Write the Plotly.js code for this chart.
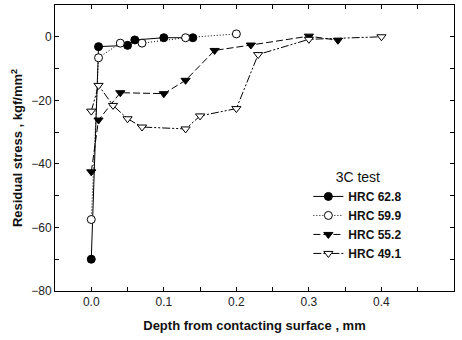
<!DOCTYPE html>
<html>
<head>
<meta charset="utf-8">
<script src="https://cdn.plot.ly/plotly-3.0.1.min.js"></script>
<style>html,body{margin:0;padding:0;background:#fff;}#chart{width:462px;height:340px;}</style>
</head>
<body>
<div id="chart"></div>
<script>
const depth628 = [0, 0.01, 0.05, 0.06, 0.10, 0.14];
const stress628 = [-70, -3.1, -2.7, -1.0, -0.3, -0.3];
const depth599 = [0, 0.01, 0.04, 0.07, 0.13, 0.20];
const stress599 = [-57.5, -6.6, -2.0, -2.0, -0.3, 0.9];
const depth552 = [0, 0.01, 0.04, 0.10, 0.13, 0.17, 0.22, 0.30, 0.34];
const stress552 = [-42.5, -26.2, -17.6, -17.9, -13.7, -4.3, -2.6, 0.2, -1.1];
const depth491 = [0, 0.01, 0.03, 0.05, 0.07, 0.13, 0.15, 0.20, 0.23, 0.30, 0.40];
const stress491 = [-23.4, -15.3, -21.6, -25.8, -28.4, -29.0, -24.9, -22.6, -5.6, -0.8, 0.0];
const seriesNames = ['HRC 62.8', 'HRC 59.9', 'HRC 55.2', 'HRC 49.1'];
const xTickVals = [0, 0.1, 0.2, 0.3, 0.4, 0.5];
const xTickText = ['0.0', '0.1', '0.2', '0.3', '0.4', '0.5'];
const yTickVals = [0, -20, -40, -60, -80];

const mk = (x, y, name, dash, symbol, fill) => ({
  x: x, y: y, name: '<b>' + name + '</b>', type: 'scatter', mode: 'lines+markers',
  line: {color: '#000', width: 1, dash: dash},
  marker: {symbol: symbol, size: 8, color: fill, line: {color: '#000', width: 1}},
  cliponaxis: false
});

const data = [
  mk(depth628, stress628, seriesNames[0], 'solid', 'circle', '#000'),
  mk(depth599, stress599, seriesNames[1], '1px,2px', 'circle', '#fff'),
  mk(depth552, stress552, seriesNames[2], '7px,3px', 'triangle-down', '#000'),
  mk(depth491, stress491, seriesNames[3], '8px,2px,2px,2px,2px,2px', 'triangle-down', '#fff')
];

const axisCommon = {
  showgrid: false, zeroline: false, showline: true, linecolor: '#000', linewidth: 1,
  mirror: 'ticks', ticks: 'inside', ticklen: 4, tickcolor: '#000', tickwidth: 1,
  tickfont: {family: 'Arial, Liberation Sans, sans-serif', size: 12, color: '#222'}
};

const layout = {
  width: 462, height: 340,
  margin: {l: 55, r: 8, t: 5, b: 49},
  paper_bgcolor: '#fff', plot_bgcolor: '#fff',
  showlegend: true,
  font: {family: 'Arial, Liberation Sans, sans-serif', color: '#111'},
  xaxis: Object.assign({}, axisCommon, {
    range: [-0.05, 0.5], tickvals: xTickVals, ticktext: xTickText,
    minor: {dtick: 0.05, tick0: 0, ticks: 'inside', ticklen: 4, tickcolor: '#000'},
    title: {text: '<b>Depth from contacting surface , mm</b>', font: {size: 13, color: '#111'}, standoff: 12}
  }),
  yaxis: Object.assign({}, axisCommon, {
    range: [-80, 10], tickvals: yTickVals,
    minor: {dtick: 10, tick0: 0, ticks: 'inside', ticklen: 4, tickcolor: '#000'},
    title: {text: '<b>Residual stress , kgf/mm<sup>2</sup></b>', font: {size: 13, color: '#111'}, standoff: 5}
  }),
  legend: {
    x: 0.635, y: 0.445, xanchor: 'left', yanchor: 'top',
    bgcolor: 'rgba(0,0,0,0)', borderwidth: 0,
    font: {size: 12, color: '#111'},
    title: {text: '3C test', side: 'top center', font: {size: 14, color: '#111'}},
    tracegroupgap: 0, itemwidth: 30
  }
};

Plotly.newPlot('chart', data, layout, {displayModeBar: false, staticPlot: true});
</script>
</body>
</html>
